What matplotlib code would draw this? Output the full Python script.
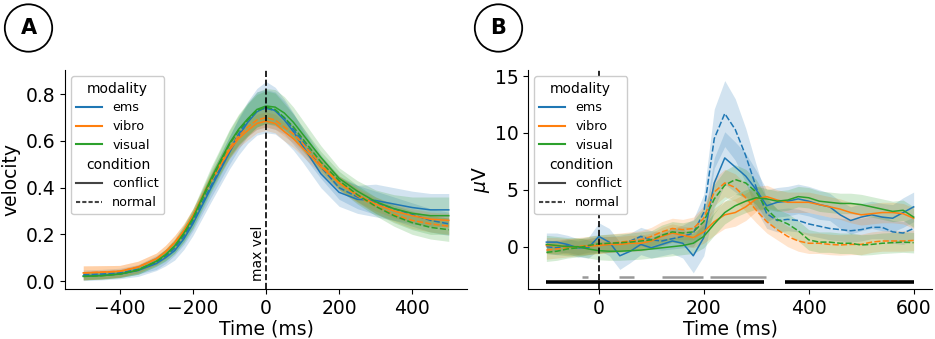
import numpy as np
import matplotlib
matplotlib.use("Agg")
import matplotlib.pyplot as plt
from matplotlib.lines import Line2D
from matplotlib.patches import Ellipse

# ---------------- panel A : velocity around max velocity ----------------
t_a = [-500, -450, -400, -350, -300, -275, -250, -225, -200, -150, -100, -75, -50, -25, 0, 25, 50, 75, 100, 150, 200, 250, 300, 350, 400, 450, 500]
vel_ems_conflict = [0.022, 0.025, 0.03, 0.045, 0.075, 0.10, 0.13, 0.18, 0.245, 0.40, 0.55, 0.62, 0.68, 0.725, 0.745, 0.73, 0.69, 0.64, 0.58, 0.46, 0.38, 0.35, 0.345, 0.33, 0.315, 0.305, 0.305]
vel_ems_normal = [0.028, 0.03, 0.035, 0.05, 0.08, 0.105, 0.14, 0.19, 0.255, 0.41, 0.56, 0.63, 0.69, 0.73, 0.74, 0.73, 0.70, 0.65, 0.60, 0.49, 0.40, 0.36, 0.335, 0.31, 0.285, 0.26, 0.245]
vel_vibro_conflict = [0.035, 0.038, 0.042, 0.06, 0.095, 0.125, 0.165, 0.215, 0.28, 0.43, 0.56, 0.61, 0.645, 0.675, 0.685, 0.675, 0.64, 0.61, 0.57, 0.49, 0.42, 0.37, 0.33, 0.30, 0.28, 0.265, 0.26]
vel_vibro_normal = [0.035, 0.038, 0.042, 0.06, 0.095, 0.125, 0.165, 0.215, 0.28, 0.44, 0.57, 0.62, 0.66, 0.69, 0.70, 0.69, 0.66, 0.63, 0.59, 0.50, 0.42, 0.365, 0.32, 0.285, 0.26, 0.245, 0.235]
vel_visual_conflict = [0.02, 0.023, 0.03, 0.047, 0.085, 0.113, 0.15, 0.205, 0.27, 0.44, 0.59, 0.65, 0.695, 0.735, 0.75, 0.745, 0.72, 0.68, 0.63, 0.53, 0.44, 0.385, 0.34, 0.31, 0.29, 0.28, 0.28]
vel_visual_normal = [0.02, 0.023, 0.03, 0.047, 0.083, 0.11, 0.148, 0.20, 0.265, 0.43, 0.585, 0.645, 0.69, 0.73, 0.745, 0.735, 0.70, 0.66, 0.61, 0.51, 0.43, 0.37, 0.32, 0.28, 0.25, 0.23, 0.22]
# half width of the confidence bands
ci_ems_conflict = [0.02, 0.02, 0.02, 0.025, 0.03, 0.035, 0.04, 0.045, 0.05, 0.06, 0.07, 0.08, 0.09, 0.10, 0.11, 0.10, 0.09, 0.08, 0.07, 0.06, 0.06, 0.06, 0.07, 0.07, 0.07, 0.07, 0.07]
ci_ems_normal = [0.02, 0.02, 0.02, 0.02, 0.03, 0.03, 0.03, 0.035, 0.04, 0.05, 0.06, 0.065, 0.07, 0.08, 0.08, 0.08, 0.07, 0.065, 0.06, 0.05, 0.05, 0.05, 0.05, 0.05, 0.05, 0.05, 0.05]
ci_vibro_conflict = [0.03, 0.028, 0.025, 0.025, 0.025, 0.028, 0.03, 0.03, 0.03, 0.03, 0.035, 0.038, 0.04, 0.04, 0.04, 0.04, 0.04, 0.038, 0.035, 0.03, 0.03, 0.03, 0.03, 0.03, 0.03, 0.03, 0.03]
ci_vibro_normal = [0.03, 0.028, 0.025, 0.025, 0.025, 0.028, 0.03, 0.03, 0.03, 0.03, 0.035, 0.038, 0.04, 0.04, 0.04, 0.04, 0.04, 0.038, 0.035, 0.03, 0.03, 0.03, 0.03, 0.03, 0.035, 0.035, 0.035]
ci_visual_conflict = [0.015, 0.015, 0.015, 0.018, 0.02, 0.025, 0.03, 0.035, 0.04, 0.05, 0.06, 0.065, 0.07, 0.075, 0.075, 0.075, 0.07, 0.065, 0.06, 0.05, 0.045, 0.045, 0.05, 0.06, 0.07, 0.08, 0.08]
ci_visual_normal = [0.015, 0.015, 0.015, 0.018, 0.02, 0.025, 0.03, 0.035, 0.04, 0.05, 0.06, 0.065, 0.07, 0.07, 0.07, 0.07, 0.06, 0.055, 0.05, 0.045, 0.04, 0.04, 0.04, 0.045, 0.05, 0.05, 0.05]

# ---------------- panel B : ERP ----------------
t_b = list(range(-100, 601, 20))
erp_ems_conflict = [0.4, 0.4, 0.2, -0.1, -0.1, 0.9, 0.4, -0.8, -0.4, 0.2, -0.1, 0.2, 0.5, 0.3, -0.8, 0.8, 5.6, 7.8, 7.0, 6.2, 5.0, 3.6, 3.9, 4.0, 4.2, 4.0, 3.7, 3.5, 2.8, 2.3, 2.6, 2.8, 2.6, 2.5, 3.0, 3.5]
erp_ems_normal = [0.0, -0.1, 0.1, -0.1, 0.1, 0.2, 0.2, 0.3, 0.5, 0.9, 0.6, 0.5, 0.7, 0.9, 1.2, 3.0, 9.5, 11.7, 10.3, 8.0, 5.2, 2.9, 2.3, 2.4, 2.3, 2.0, 1.8, 1.6, 1.5, 1.4, 1.5, 1.7, 1.7, 1.3, 1.2, 1.6]
erp_vibro_conflict = [0.1, 0.1, 0.0, 0.0, 0.05, 0.1, 0.2, 0.2, 0.3, 0.3, 0.5, 0.9, 1.2, 1.0, 0.8, 1.3, 2.2, 2.8, 3.0, 3.5, 4.2, 4.4, 4.1, 3.9, 3.9, 3.9, 3.7, 3.5, 3.3, 3.0, 2.8, 2.9, 3.0, 3.0, 2.9, 2.5]
erp_vibro_normal = [-0.3, -0.2, -0.1, 0.0, 0.1, 0.2, 0.3, 0.4, 0.5, 0.6, 0.9, 1.3, 1.6, 1.5, 1.6, 2.5, 4.8, 5.6, 5.2, 4.3, 3.2, 2.2, 1.5, 0.9, 0.5, 0.3, 0.3, 0.2, 0.15, 0.2, 0.2, 0.4, 0.5, 0.5, 0.5, 0.55]
erp_visual_conflict = [0.2, 0.1, 0.0, 0.0, -0.2, -0.35, -0.4, -0.4, -0.35, -0.3, -0.2, -0.1, 0.0, 0.1, 0.3, 0.9, 2.0, 3.0, 3.6, 4.0, 4.3, 4.2, 4.0, 4.1, 4.4, 4.3, 4.0, 3.9, 3.8, 3.8, 3.7, 3.5, 3.3, 3.1, 3.2, 2.6]
erp_visual_normal = [-0.5, -0.4, -0.2, -0.1, 0.1, 0.25, 0.3, 0.35, 0.4, 0.5, 0.6, 1.0, 1.3, 1.2, 1.3, 2.2, 4.2, 5.4, 5.9, 5.6, 4.8, 3.3, 2.4, 2.0, 1.4, 0.6, 0.4, 0.4, 0.3, 0.3, 0.15, 0.2, 0.3, 0.35, 0.4, 0.35]
ci_b_ems_conflict = [0.8, 0.8, 0.8, 0.8, 0.9, 1.2, 1.2, 1.2, 1.0, 0.9, 0.9, 1.0, 1.1, 1.3, 1.5, 1.6, 2.2, 2.3, 2.2, 2.0, 1.7, 1.4, 1.3, 1.3, 1.3, 1.3, 1.3, 1.2, 1.2, 1.2, 1.2, 1.2, 1.2, 1.2, 1.3, 1.3]
ci_b_ems_normal = [0.6, 0.6, 0.6, 0.6, 0.6, 0.7, 0.7, 0.7, 0.7, 0.8, 0.8, 0.8, 0.9, 1.0, 1.2, 1.6, 2.6, 2.9, 2.7, 2.4, 2.0, 1.3, 1.0, 1.0, 1.0, 1.0, 1.0, 1.0, 1.0, 1.0, 1.0, 1.0, 1.0, 1.0, 1.0, 1.0]
ci_b_vibro_conflict = [0.7, 0.7, 0.7, 0.7, 0.7, 0.7, 0.7, 0.7, 0.7, 0.7, 0.7, 0.8, 0.8, 0.8, 0.9, 1.0, 1.2, 1.2, 1.2, 1.2, 1.1, 1.0, 0.9, 0.9, 0.9, 0.9, 0.9, 0.9, 0.9, 0.9, 0.9, 0.9, 0.9, 0.9, 0.9, 0.9]
ci_b_vibro_normal = [0.8, 0.8, 0.8, 0.8, 0.8, 0.8, 0.8, 0.8, 0.8, 0.8, 0.8, 0.9, 0.9, 0.9, 1.0, 1.1, 1.2, 1.2, 1.2, 1.2, 1.1, 1.0, 0.9, 0.9, 0.9, 0.9, 0.9, 0.9, 0.9, 0.9, 0.9, 0.9, 0.9, 0.9, 0.9, 0.9]
ci_b_visual_conflict = [0.8, 0.8, 0.8, 0.8, 0.8, 0.8, 0.8, 0.8, 0.8, 0.8, 0.8, 0.8, 0.8, 0.8, 0.9, 1.0, 1.0, 1.0, 1.0, 1.0, 1.0, 0.9, 0.9, 0.9, 0.9, 0.9, 0.9, 0.9, 0.9, 0.9, 0.9, 0.9, 0.9, 0.9, 0.9, 0.9]
ci_b_visual_normal = [0.8, 0.8, 0.8, 0.8, 0.8, 0.8, 0.8, 0.8, 0.8, 0.8, 0.8, 0.9, 0.9, 0.9, 1.0, 1.2, 1.3, 1.3, 1.3, 1.2, 1.1, 1.0, 0.9, 0.9, 0.9, 0.9, 0.9, 0.9, 0.9, 0.9, 0.9, 0.9, 0.9, 0.9, 0.9, 0.9]

# significant clusters (ms)
sig_black_start = [-100, 355]
sig_black_end = [315, 600]
sig_gray_start = [-33, 38, 120, 212]
sig_gray_end = [-20, 67, 198, 318]

modalities = ["ems", "vibro", "visual"]
colors = {"ems": "#1f77b4", "vibro": "#ff7f0e", "visual": "#2ca02c"}

series_a = {
    ("ems", "conflict"): (vel_ems_conflict, ci_ems_conflict),
    ("ems", "normal"): (vel_ems_normal, ci_ems_normal),
    ("vibro", "conflict"): (vel_vibro_conflict, ci_vibro_conflict),
    ("vibro", "normal"): (vel_vibro_normal, ci_vibro_normal),
    ("visual", "conflict"): (vel_visual_conflict, ci_visual_conflict),
    ("visual", "normal"): (vel_visual_normal, ci_visual_normal),
}
series_b = {
    ("ems", "conflict"): (erp_ems_conflict, ci_b_ems_conflict),
    ("ems", "normal"): (erp_ems_normal, ci_b_ems_normal),
    ("vibro", "conflict"): (erp_vibro_conflict, ci_b_vibro_conflict),
    ("vibro", "normal"): (erp_vibro_normal, ci_b_vibro_normal),
    ("visual", "conflict"): (erp_visual_conflict, ci_b_visual_conflict),
    ("visual", "normal"): (erp_visual_normal, ci_b_visual_normal),
}

FS = 13.5


def draw_lines(ax, t, series):
    t = np.array(t)
    for (mod, cond), (y, ci) in series.items():
        y = np.array(y)
        ci = np.array(ci)
        ax.fill_between(t, y - ci, y + ci, color=colors[mod], alpha=0.2, lw=0)
        ln, = ax.plot(t, y, color=colors[mod], lw=1.1)
        if cond == "normal":
            ln.set_dashes((4, 1.5))


def add_legend(ax):
    # seaborn style legend with subtitles
    handles = [Line2D([], [], visible=False)]
    labels = ["modality"]
    for m in modalities:
        handles.append(Line2D([], [], color=colors[m], lw=1.5))
        labels.append(m)
    handles.append(Line2D([], [], visible=False))
    labels.append("condition")
    handles.append(Line2D([], [], color="#444444", lw=1.5))
    labels.append("conflict")
    handles.append(Line2D([], [], color="#444444", lw=1.5, dashes=(2, 1)))
    labels.append("normal")
    leg = ax.legend(handles, labels, loc="upper left", fontsize=9.2, framealpha=1,
                    labelspacing=0.45, handlelength=2.0)
    for col in leg._legend_handle_box.get_children():
        for hpack in col.get_children():
            draw_area, text_area = hpack.get_children()
            if not all(a.get_visible() for a in draw_area.get_children()):
                draw_area.set_width(0)
                for txt in text_area.get_children():
                    txt.set_fontsize(10)
    return leg


def style_axes(ax):
    ax.spines["top"].set_visible(False)
    ax.spines["right"].set_visible(False)
    ax.tick_params(labelsize=FS)
    ax.set_xlabel("Time (ms)", fontsize=FS, labelpad=1)


fig = plt.figure(figsize=(9.35, 3.39), dpi=100)
ax1 = fig.add_axes([0.0695, 0.1475, 0.43, 0.646])
ax2 = fig.add_axes([0.5647, 0.1475, 0.4321, 0.646])

# panel A
draw_lines(ax1, t_a, series_a)
ax1.axvline(0, color="black", ls="--", lw=1.2)
ax1.text(-3, 0.0, "max vel", rotation=90, ha="right", va="bottom", fontsize=10)
ax1.set_xlim(-550, 550)
ax1.set_ylim(-0.034, 0.904)
ax1.set_xticks([-400, -200, 0, 200, 400])
ax1.set_yticks([0.0, 0.2, 0.4, 0.6, 0.8])
ax1.set_ylabel("velocity", fontsize=FS)
style_axes(ax1)
add_legend(ax1)

# panel B
draw_lines(ax2, t_b, series_b)
ax2.axvline(0, color="black", ls="--", lw=1.2)
ax2.hlines([-3.1] * len(sig_black_start), sig_black_start, sig_black_end, color="black", lw=2.6)
ax2.hlines([-2.65] * len(sig_gray_start), sig_gray_start, sig_gray_end, color="#999999", lw=1.8)
ax2.set_xlim(-135, 635)
ax2.set_ylim(-3.72, 15.53)
ax2.set_xticks([0, 200, 400, 600])
ax2.set_yticks([0, 5, 10, 15])
ax2.set_ylabel(r"$\mu$V", fontsize=FS, labelpad=2)
style_axes(ax2)
add_legend(ax2)

# circled panel letters
W, H = 935, 339
for cx, letter in [(28.5, "A"), (498.5, "B")]:
    fig.patches.append(Ellipse((cx / W, 1 - 28 / H), 47.4 / W, 47.4 / H, transform=fig.transFigure,
                               fill=False, ec="black", lw=1.3))
    fig.text(cx / W, 1 - 28 / H, letter, ha="center", va="center", fontsize=15, fontweight="bold")

fig.savefig("out.png", dpi=100)
